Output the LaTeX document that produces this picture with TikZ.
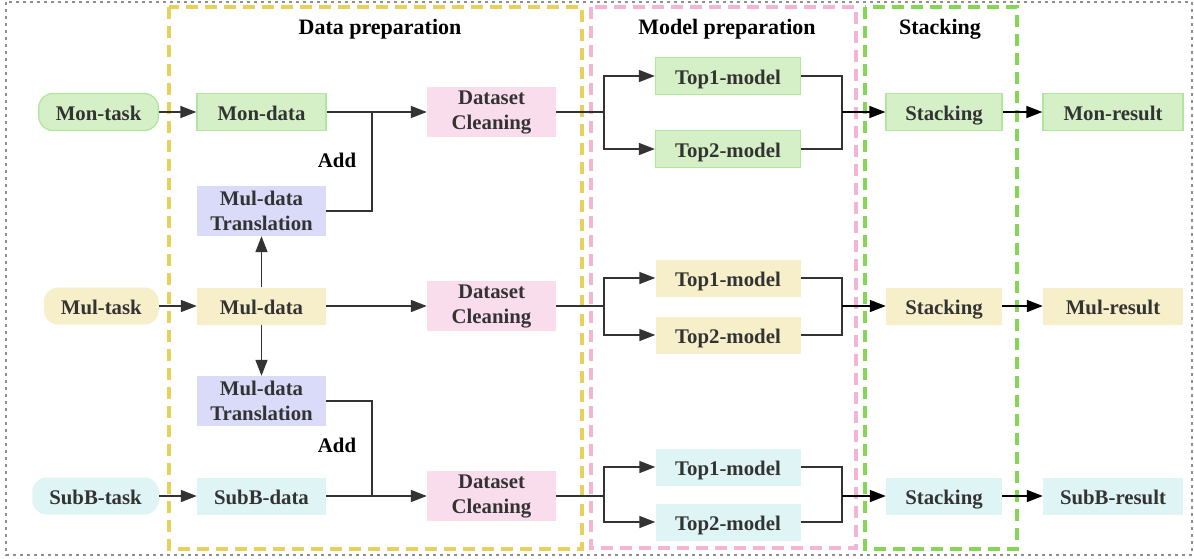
\documentclass[tikz,border=0pt]{standalone}
\usepackage{fontspec}
\setmainfont{Liberation Serif}
\usepackage{xcolor}
\usetikzlibrary{arrows.meta}
\definecolor{ink}{HTML}{333333}
\definecolor{monFill}{HTML}{D5F0C6}
\definecolor{monLine}{HTML}{B2E69F}
\definecolor{mulFill}{HTML}{F7EFCA}
\definecolor{subFill}{HTML}{DFF5F5}
\definecolor{traFill}{HTML}{D9DBF9}
\definecolor{clnFill}{HTML}{FADDEC}
\definecolor{dYellow}{HTML}{E8D05C}
\definecolor{dPink}{HTML}{F4B4D4}
\definecolor{dGreen}{HTML}{86D656}
\definecolor{dGray}{HTML}{8F8F8F}
\tikzset{
  box/.style={rectangle, inner sep=0pt, align=center, text=ink, font=\fontsize{20.8}{25}\selectfont\bfseries, minimum height=37pt},
  oneline/.style={text height=17pt, text depth=1pt},
  twoline/.style={box, minimum width=129pt, minimum height=50pt, execute at begin node={\rule{0pt}{18pt}}},
  monbox/.style={box, oneline, fill=monFill, draw=monLine, line width=1.3pt},
  mulbox/.style={box, oneline, fill=mulFill},
  subbox/.style={box, oneline, fill=subFill},
  trabox/.style={twoline, fill=traFill},
  clnbox/.style={twoline, fill=clnFill},
  taskbox/.style={rounded corners=14pt, inner xsep=17pt, anchor=east},
  title/.style={font=\fontsize{22}{26}\selectfont\bfseries, text=black},
  lbl/.style={font=\fontsize{20.8}{25}\selectfont\bfseries, text=black},
  flow/.style={draw=ink, line width=1.5pt},
  arr/.style={flow, -{Triangle[length=16pt,width=12pt]}},
  arrk/.style={draw=black, line width=1.5pt, -{Triangle[length=16pt,width=12pt]}},
}

\begin{document}
\begin{tikzpicture}[x=1pt, y=-1pt]
\useasboundingbox (0,0) rectangle (1194,558);
\draw[dGray, line width=1.6pt, dash pattern=on 3pt off 4pt] (6,2) rectangle (1192,555);
\draw[dYellow, line width=3.2pt, dash pattern=on 12pt off 7pt] (169,7) rectangle (582,549);
\draw[dPink, line width=3.2pt, dash pattern=on 12pt off 7pt] (591,7) rectangle (856,548);
\draw[dGreen, line width=3.2pt, dash pattern=on 12pt off 7pt] (865,7) rectangle (1017,549);
\node[title] (tdata) at (380,29) {Data preparation};
\node[title] (tmodel) at (727,29) {Model preparation};
\node[title] (tstack) at (940,29) {Stacking};
\foreach \r/\c/\tsk/\y/\ya/\yb in {mon/monbox/Mon/112/76/149, mul/mulbox/Mul/306/278/335, subb/subbox/SubB/496/467/522} {
  \node[\c, taskbox] (\r-task) at (159,\y) {\tsk-task};
  \node[\c, minimum width=129pt] (\r-data) at (261.5,\y) {\tsk-data};
  \node[clnbox] (\r-cln) at (491.5,\y) {Dataset\\Cleaning};
  \node[\c, minimum width=145pt] (\r-top1) at (728,\ya) {Top1-model};
  \node[\c, minimum width=145pt] (\r-top2) at (728,\yb) {Top2-model};
  \node[\c, minimum width=116pt] (\r-stk) at (944,\y) {Stacking};
  \node[\c, minimum width=140pt] (\r-res) at (1113,\y) {\tsk-result};
  \coordinate (\r-br) at (604,\y);
  \coordinate (\r-mg) at (842,\y);
  \draw[arr] (\r-task) -- (\r-data);
  \draw[arr] (\r-data) -- (\r-cln);
  \draw[flow] (\r-cln) -- (\r-br);
  \draw[arr] (\r-br) |- (\r-top1);
  \draw[arr] (\r-br) |- (\r-top2);
  \draw[flow] (\r-top1) -| (\r-mg);
  \draw[flow] (\r-top2) -| (\r-mg);
  \draw[arrk] (\r-mg) -- (\r-stk);
  \draw[arrk] (\r-stk) -- (\r-res);
}
\node[trabox] (tra1) at (261.5,211) {Mul-data\\Translation};
\node[trabox] (tra2) at (261.5,401) {Mul-data\\Translation};
\coordinate (add1) at (372,112);
\coordinate (add2) at (372,496);
\draw[arr] (mul-data) -- (tra1);
\draw[arr] (mul-data) -- (tra2);
\draw[flow] (tra1) -| (add1);
\draw[flow] (tra2) -| (add2);
\node[lbl] (addup) at (337,160) {Add};
\node[lbl] (adddown) at (337,445) {Add};
\end{tikzpicture}
\end{document}
